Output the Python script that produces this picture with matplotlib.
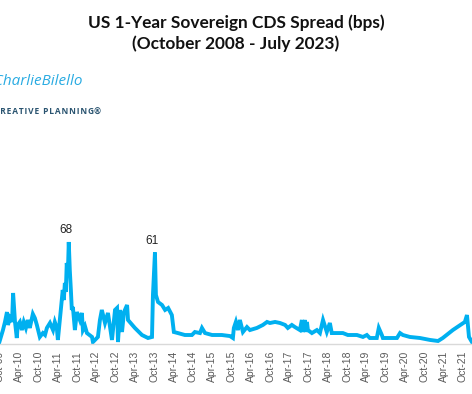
import matplotlib
matplotlib.use("Agg")
import matplotlib.pyplot as plt
import matplotlib.dates as mdates
import numpy as np

# US 1-year sovereign CDS spread (bps)
dates = [
    "2008-10-15", "2009-01-15", "2009-04-15", "2009-07-15", "2009-09-15",
    "2009-10-01", "2009-10-29", "2009-11-17", "2009-12-06", "2009-12-15",
    "2010-01-04", "2010-01-23", "2010-02-02", "2010-02-20", "2010-03-09",
    "2010-03-18", "2010-04-07", "2010-04-26", "2010-05-14", "2010-06-03",
    "2010-06-21", "2010-07-10", "2010-08-08", "2010-08-27", "2010-09-15",
    "2010-10-13", "2010-11-11", "2010-12-01", "2010-12-19", "2011-01-17",
    "2011-02-15", "2011-03-04", "2011-03-23", "2011-04-02", "2011-04-20",
    "2011-05-09", "2011-05-18", "2011-05-28", "2011-06-07", "2011-06-16",
    "2011-06-25", "2011-07-05", "2011-07-14", "2011-07-24", "2011-08-03",
    "2011-08-12", "2011-08-22", "2011-09-10", "2011-09-29", "2011-10-27",
    "2011-11-15", "2011-11-25", "2011-12-14", "2012-01-02", "2012-02-19",
    "2012-02-28", "2012-04-15", "2012-05-04", "2012-05-22", "2012-06-21",
    "2012-07-19", "2012-08-26", "2012-09-24", "2012-10-13", "2012-10-22",
    "2012-11-10", "2012-11-29", "2012-12-18", "2013-01-16", "2013-01-25",
    "2013-03-31", "2013-06-06", "2013-08-02", "2013-09-09", "2013-09-18",
    "2013-10-07", "2013-10-16", "2013-11-05", "2013-12-13", "2014-01-11",
    "2014-02-09", "2014-03-16", "2014-04-04", "2014-05-12", "2014-07-17",
    "2014-09-22", "2014-10-20", "2014-12-07", "2014-12-26", "2015-01-24",
    "2015-04-01", "2015-07-02", "2015-09-17", "2015-10-15", "2015-10-24",
    "2015-11-12", "2015-12-01", "2015-12-20", "2016-01-18", "2016-02-25",
    "2016-03-24", "2016-05-29", "2016-07-25", "2016-09-02", "2016-09-30",
    "2016-11-17", "2017-01-03", "2017-02-20", "2017-03-18", "2017-04-25",
    "2017-05-24", "2017-07-10", "2017-07-29", "2017-08-08", "2017-08-27",
    "2017-09-05", "2017-09-15", "2017-09-24", "2017-11-01", "2017-12-18",
    "2018-01-16", "2018-02-14", "2018-03-22", "2018-04-20", "2018-05-08",
    "2018-06-25", "2018-08-21", "2018-10-07", "2018-10-26", "2019-01-01",
    "2019-02-27", "2019-04-05", "2019-05-03", "2019-07-08", "2019-07-27",
    "2019-08-25", "2019-09-04", "2020-01-15", "2020-02-13", "2020-03-11",
    "2020-05-16", "2020-08-20", "2020-11-23", "2021-02-07", "2021-03-24",
    "2021-06-27", "2021-10-19", "2021-11-08", "2021-11-27", "2021-12-25",
    "2022-03-01", "2022-10-01", "2023-01-15", "2023-05-15", "2023-07-15",
]
spread = [
    30, 40, 25, 12, 6,
    2.7, 9.3, 14.7, 21.3, 12.7,
    17.3, 14.7, 34, 14.7, 4,
    12.7, 14.7, 9.3, 14.7, 10.7,
    16, 10.7, 20, 17.3, 12.7,
    4.7, 7.3, 6, 10.7, 14,
    9.3, 14.7, 10.7, 2.7, 16,
    29.3, 36, 29.3, 40.7, 34.7,
    54, 46, 68, 49, 36,
    22.7, 24.7, 9.3, 21.3, 16,
    20.7, 9.3, 12, 7.3, 4.7,
    1.3, 4.7, 16, 22.7, 14,
    20.7, 2.7, 22.7, 24, 1.3,
    22.7, 8, 21.3, 26, 16,
    10.7, 6, 4, 4.7, 32.7,
    61, 32.7, 28, 26, 22.7,
    24, 19.3, 8, 7.3, 6,
    6, 8, 7.3, 10.7, 7.3,
    6, 6, 5.3, 4, 10.7,
    14.7, 9.3, 16, 8, 11.3,
    9.3, 10.7, 12.7, 14.7, 14,
    14.7, 14, 12.7, 10.7, 12.7,
    11.3, 9.3, 16, 8, 16,
    8, 14.7, 9.3, 7.3, 9.3,
    7.3, 16, 8, 14, 7.3,
    7.3, 7.3, 6, 6, 6,
    4.7, 6, 4, 4, 10.7,
    6, 4, 4, 7.3, 6,
    4.7, 4, 2.7, 2, 4,
    9.3, 14.7, 19.3, 4.7, 1.3,
    10, 20, 30, 170, 60,
]
peak_labels = [("2011-07-14", 68), ("2013-10-07", 61)]
assert len(dates) == len(spread)

x = mdates.datestr2num(dates)
y = np.array(spread)

W, H = 472, 394
fig = plt.figure(figsize=(W / 100, H / 100), dpi=100)

# the picture is a crop of a wider chart: place the axes so Oct-09 sits at x=0
px_per_day = 38.58 / 365.25
anchor = mdates.datestr2num("2009-10-01")
x0 = mdates.datestr2num("2008-10-01")
x1 = mdates.datestr2num("2023-07-31")
ymax = 110
px_per_bp = 1.5
left = (x0 - anchor) * px_per_day / W
width = (x1 - x0) * px_per_day / W
ax = fig.add_axes([left, 50 / H, width, ymax * px_per_bp / H])

ax.plot(x, y, color="#00B0F0", lw=2.8, solid_joinstyle="miter")
for d, v in peak_labels:
    ax.annotate(str(v), (mdates.datestr2num(d), v), xytext=(-2, 4),
                textcoords="offset points", ha="center", va="bottom",
                fontsize=8.5, family="Liberation Sans", color="#222222")

ax.set_xlim(x0, x1)
ax.set_ylim(0, ymax)
ax.xaxis.set_major_locator(mdates.MonthLocator(bymonth=[4, 10]))
ax.xaxis.set_major_formatter(mdates.DateFormatter("%b-%y"))
ax.tick_params(axis="x", length=0, pad=5, labelrotation=90, labelsize=7.5,
               labelcolor="#595959")
for lbl in ax.get_xticklabels():
    lbl.set_family("Liberation Sans")
ax.set_yticks([])
for s in ["top", "right", "left"]:
    ax.spines[s].set_visible(False)
ax.spines["bottom"].set_color("#D9D9D9")
ax.spines["bottom"].set_linewidth(1)

fig.text(236 / W, 1 - 23 / H, "US 1-Year Sovereign CDS Spread (bps)", ha="center",
         va="center", fontsize=12.4, fontweight="bold", family="Lato", color="#111111")
fig.text(236 / W, 1 - 44 / H, "(October 2008 - July 2023)", ha="center",
         va="center", fontsize=12.4, fontweight="bold", family="Lato", color="#111111")
fig.text(83 / W, 1 - 81 / H, "@CharlieBilello", ha="right", va="center",
         fontsize=11, style="italic", family="Open Sans", color="#29ABE2")
fig.text(101 / W, 1 - 112 / H, "\u200a".join("CREATIVE PLANNING") + "\u00ae",
         ha="right", va="center", fontsize=6, fontweight="bold",
         family=["Open Sans", "DejaVu Sans"], color="#2A5470")

fig.savefig("out.png", dpi=100)
